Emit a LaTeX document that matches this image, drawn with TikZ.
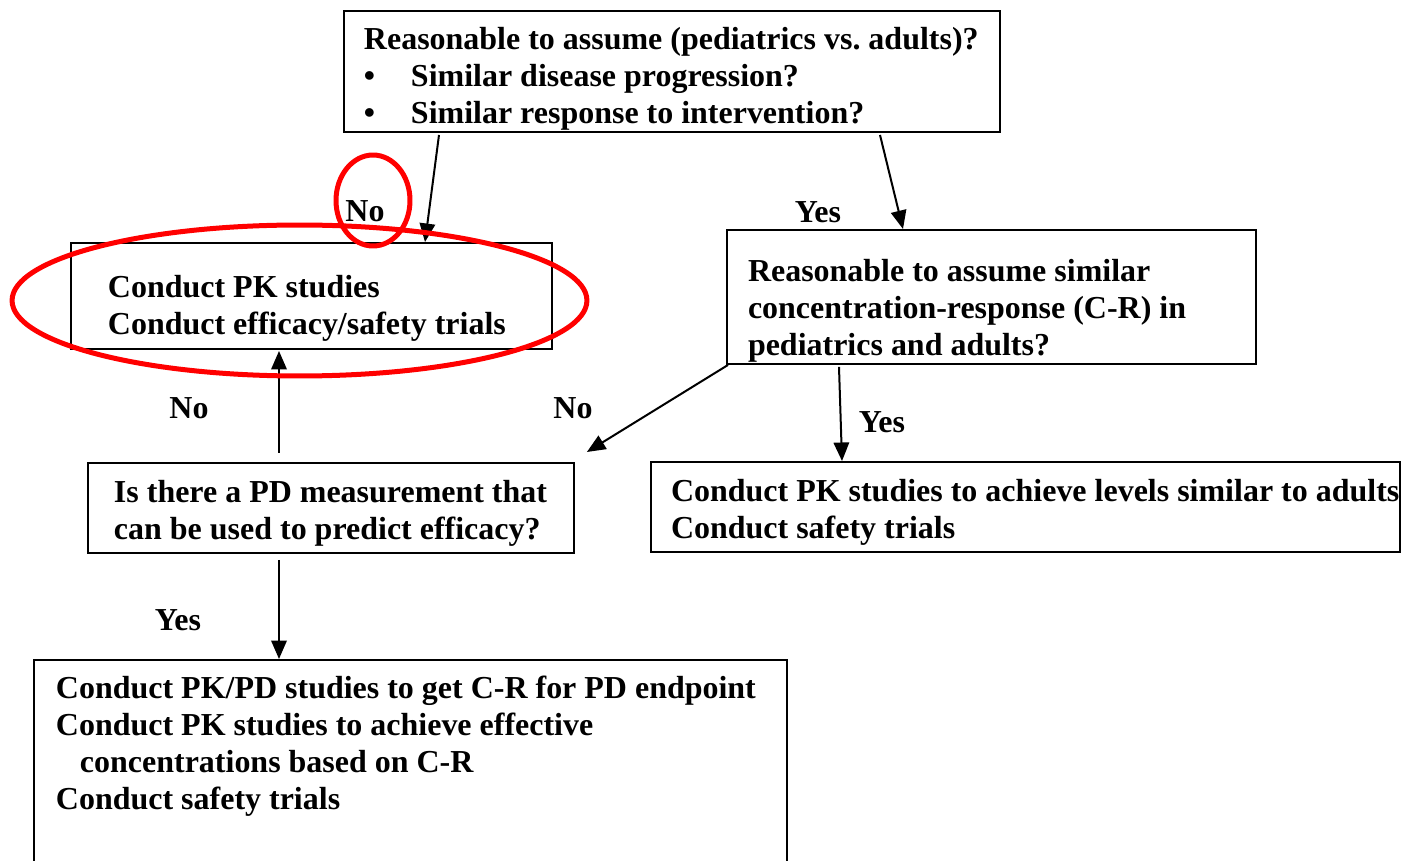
\documentclass[tikz,border=0pt]{standalone}
\usepackage{fontspec}
\setmainfont{Liberation Serif}
\usetikzlibrary{arrows.meta}

\begin{document}
\begin{tikzpicture}[x=0.02cm, y=-0.02cm, font=\fontsize{18.2}{21.05}\selectfont\bfseries,
	box/.style={draw, line width=0.04cm, anchor=north west, inner ysep=0pt},
	arr/.style={line width=0.04cm, -{Triangle[length=0.37cm,width=0.31cm]}},
	lbl/.style={inner sep=0pt, anchor=base},
	ring/.style={draw=red, line width=0.1cm}]
\useasboundingbox (0,0) rectangle (1414,861);

 \node[box, inner xsep=0.4cm] (top) at (343,10) {\parbox[t][2.42cm][t]{12.32cm}{\raggedright\vspace*{0.26cm}\strut
	Reasonable to assume (pediatrics vs.\ adults)?\\
	\makebox[0.94cm][l]{•}Similar disease progression?\\
	\makebox[0.94cm][l]{•}Similar response to intervention?}};
 \node[box, inner xsep=0.74cm] (pk) at (70,242) {\parbox[t][2.12cm][t]{8.14cm}{\raggedright\vspace*{0.58cm}\strut
	Conduct PK studies\\
	Conduct efficacy/safety trials}};
 \node[box, inner xsep=0.42cm] (cr) at (726,229) {\parbox[t][2.68cm][t]{9.74cm}{\raggedright\vspace*{0.52cm}\strut
	Reasonable to assume similar\\
	\mbox{concentration-response (C-R) in}\\
	pediatrics and adults?}};
 \node[box, inner xsep=0.52cm] (pd) at (87,462) {\parbox[t][1.8cm][t]{8.68cm}{\raggedright\vspace*{0.28cm}\strut
	\mbox{Is there a PD measurement that}\\
	\mbox{can be used to predict efficacy?}}};
 \node[box, inner xsep=0.4cm] (rt) at (650,461) {\parbox[t][1.8cm][t]{14.18cm}{\raggedright\vspace*{0.28cm}\strut
	\mbox{Conduct PK studies to achieve levels similar to adults}\\
	Conduct safety trials}};
 \node[box, inner xsep=0.44cm] (bot) at (33,659) {\parbox[t][4.62cm][t]{14.18cm}{\raggedright\vspace*{0.26cm}\strut
	\mbox{Conduct PK/PD studies to get C-R for PD endpoint}\\
	\mbox{Conduct PK studies to achieve effective}\\
	\hspace*{0.48cm}concentrations based on C-R\\
	Conduct safety trials}};

 \draw[arr] ([shift={(96,2)}]top.south west) -- ([shift={(355,0)}]pk.north west);
 \draw[arr] ([shift={(537,2)}]top.south west) -- ([shift={(177,0)}]cr.north west);
 \draw[arr] ([shift={(2,0)}]cr.south west) -- ([shift={(12,-10)}]pd.north east);
 \draw[arr] ([shift={(113,2)}]cr.south west) -- ([shift={(192,0)}]rt.north west);
 \draw[arr] ([shift={(192,-9)}]pd.north west) -- ([shift={(209,1)}]pk.south west);
 \draw[arr] ([shift={(192,6)}]pd.south west) -- ([shift={(246,0)}]bot.north west);

 \node[lbl] (no1) at (365,222) {No};
 \node[lbl] (yes1) at (818,223) {Yes};
 \node[lbl] (no2) at (573,419) {No};
 \node[lbl] (yes2) at (882,433) {Yes};
 \node[lbl] (no3) at (189,419) {No};
 \node[lbl] (yes3) at (178,630) {Yes};

 \draw[ring] (299.5,300.5) ellipse [x radius=5.75cm, y radius=1.51cm];
 \draw[ring] (373,200.5) ellipse [x radius=0.74cm, y radius=0.91cm];
\end{tikzpicture}
\end{document}
